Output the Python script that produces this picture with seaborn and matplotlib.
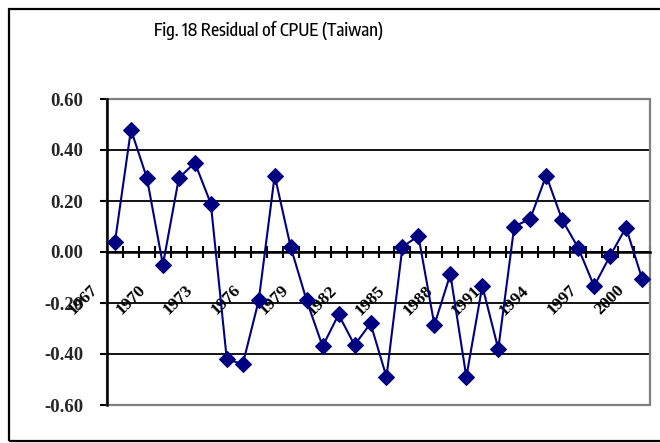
import numpy as np
import pandas as pd
import matplotlib
matplotlib.use("Agg")
import matplotlib.pyplot as plt
import matplotlib.transforms as mtransforms
from matplotlib import font_manager
from matplotlib.font_manager import FontProperties
from matplotlib.patches import Rectangle
import seaborn as sns

# Residuals of Taiwanese CPUE, 1967-2000
years = list(range(1967, 2001))
residuals = [0.04, 0.48, 0.29, -0.05, 0.29, 0.35, 0.19, -0.42, -0.44, -0.19,
             0.30, 0.02, -0.19, -0.37, -0.245, -0.365, -0.28, -0.49, 0.02, 0.063,
             -0.286, -0.087, -0.49, -0.133, -0.38, 0.10, 0.13, 0.30, 0.126, 0.017,
             -0.134, -0.015, 0.096, -0.104]
year_labels = [str(y) for y in range(1967, 2001, 3)]
y_ticks = [0.60, 0.40, 0.20, 0.00, -0.20, -0.40, -0.60]
title = "Fig. 18 Residual of CPUE (Taiwan)"

df = pd.DataFrame({"year": years, "residual": residuals})

sns.set_style("white")
plt.rcParams["font.family"] = ["Liberation Serif", "DejaVu Serif"]

STRETCH_RANK = {"ultra-condensed": 0, "extra-condensed": 1, "condensed": 2,
                "semi-condensed": 3}


def narrow_font():
    """Pick the narrowest upright condensed face installed for the title."""
    best = None
    for f in font_manager.fontManager.ttflist:
        if f.style != "normal":
            continue
        st = f.stretch
        if isinstance(st, (int, float)):
            rank = 0 if st <= 200 else 1 if st <= 300 else 2 if st <= 400 else 3 if st < 500 else None
        else:
            rank = STRETCH_RANK.get(str(st).lower())
        if rank is None:
            low = f.name.lower()
            if "extracondensed" in low.replace(" ", "") or "extra condensed" in low:
                rank = 1
            elif "condensed" in low or "narrow" in low:
                rank = 2
            else:
                continue
        w = f.weight if isinstance(f.weight, (int, float)) else 400
        score = rank * 10 + abs(w - 500) / 100.0
        if "sans" not in f.name.lower():
            score += 0.5
        if best is None or score < best[0]:
            best = (score, f.fname)
    return None if best is None else best[1]


W, H = 660, 443
fig = plt.figure(figsize=(W / 100, H / 100), dpi=100)
ax = fig.add_axes([107 / W, 1 - 405 / H, 543 / W, 306 / H])

navy = "#000080"
sns.lineplot(data=df, x="year", y="residual", ax=ax, color=navy,
             linewidth=1.5, marker="D", markersize=8,
             markeredgecolor=navy, markerfacecolor=navy, zorder=5)

ax.set_xlim(years[0] - 0.5, years[-1] + 0.5)
ax.set_ylim(-0.6, 0.6)
ax.set_xlabel("")
ax.set_ylabel("")

# horizontal gridlines
ax.set_yticks(y_ticks)
ax.set_yticklabels([f"{v:.2f}" for v in y_ticks], fontsize=13.5,
                   fontweight="bold")
ax.yaxis.grid(True, color="black", linewidth=1.3, zorder=1)
ax.xaxis.grid(False)
ax.tick_params(axis="y", direction="out", length=5, width=1.5,
               color="black", pad=12, left=True)

# category axis crossing at zero with cross ticks between categories
for side in ("top", "right"):
    ax.spines[side].set_visible(False)
ax.spines["bottom"].set_position(("data", 0))
ax.spines["bottom"].set_color("black")
ax.spines["bottom"].set_linewidth(1.8)
ax.spines["bottom"].set_zorder(3)
ax.spines["left"].set_color("black")
ax.spines["left"].set_linewidth(1.8)
ax.spines["left"].set_zorder(4)
ax.set_xticks(np.arange(years[0] - 0.5, years[-1] + 1, 1.0))
ax.tick_params(axis="x", direction="inout", length=8, width=1.5,
               color="black", labelbottom=False, bottom=True)

# gray plot-area frame
ax.add_patch(Rectangle((0, 0), 1, 1, transform=ax.transAxes, fill=False,
                       edgecolor="#808080", linewidth=1.6, zorder=2,
                       clip_on=False))

# rotated year labels below the zero line
lab_tr = mtransforms.offset_copy(ax.transData, fig=fig, x=-20, y=-36,
                                 units="dots")
for lab in year_labels:
    ax.text(int(lab), 0, lab, transform=lab_tr, rotation=45,
            rotation_mode="anchor", ha="right", va="center",
            fontsize=12.5, fontweight="bold", color="black")

# chart title
nf = narrow_font()
if nf is not None:
    title_fp = FontProperties(fname=nf, size=12.5)
else:
    title_fp = FontProperties(family=["Liberation Serif", "DejaVu Serif"],
                              size=12.5)
fig.text(269 / W, 1 - 30 / H, title, ha="center", va="center",
         fontproperties=title_fp, color="black")

# chart-area border
fig.add_artist(Rectangle((9 / W, 1 - 441 / H), (664 - 9) / W, (441 - 9) / H,
                         transform=fig.transFigure, fill=False,
                         edgecolor="black", linewidth=1.6))

fig.savefig("out.png", dpi=100)
